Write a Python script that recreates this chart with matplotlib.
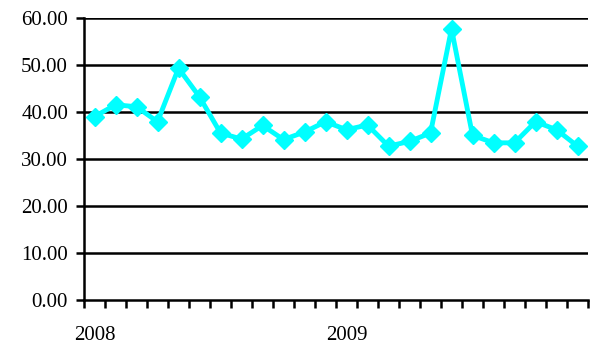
import numpy as np
import matplotlib.pyplot as plt

# Monthly values, Jan 2008 - Dec 2009
values = [39.1, 41.6, 41.2, 38.0, 49.4, 43.3, 35.6, 34.3, 37.2, 34.2, 35.8, 38.0,
          36.3, 37.3, 32.8, 33.8, 35.6, 57.8, 35.1, 33.5, 33.5, 38.0, 36.3, 32.8]
year_labels = ['2008', '2009']
year_positions = [0, 12]
y_ticks = [0, 10, 20, 30, 40, 50, 60]

plt.rcParams['font.family'] = ['Liberation Serif', 'DejaVu Serif']

fig = plt.figure(figsize=(6, 3.47), dpi=100)
ax = fig.add_axes([0.14, 0.1354, 0.84, 0.8113])

x = np.arange(len(values))
ax.plot(x, values, color='#00FFFF', linewidth=3.5, marker='D', markersize=9,
        zorder=3, clip_on=False)

ax.set_xlim(-0.5, len(values) - 0.5)
ax.set_ylim(0, 60)
ax.set_yticks(y_ticks)
ax.set_yticklabels([f'{v:.2f}' for v in y_ticks], fontsize=15)
for v in y_ticks[1:]:
    ax.axhline(v, color='black', linewidth=1.8, zorder=1)

# category boundaries as minor ticks, year labels as major ticks
ax.set_xticks(np.arange(len(values) + 1) - 0.5, minor=True)
ax.set_xticks(year_positions)
ax.set_xticklabels(year_labels, fontsize=15)
ax.tick_params(axis='x', which='major', length=0, pad=19)
ax.tick_params(axis='x', which='minor', length=5.5, width=1.8, direction='out')
ax.tick_params(axis='y', length=5.5, width=1.8, direction='out', pad=6)

for side in ['top', 'right']:
    ax.spines[side].set_visible(False)
for side in ['left', 'bottom']:
    ax.spines[side].set_linewidth(1.8)

fig.savefig('out.png', dpi=100)
